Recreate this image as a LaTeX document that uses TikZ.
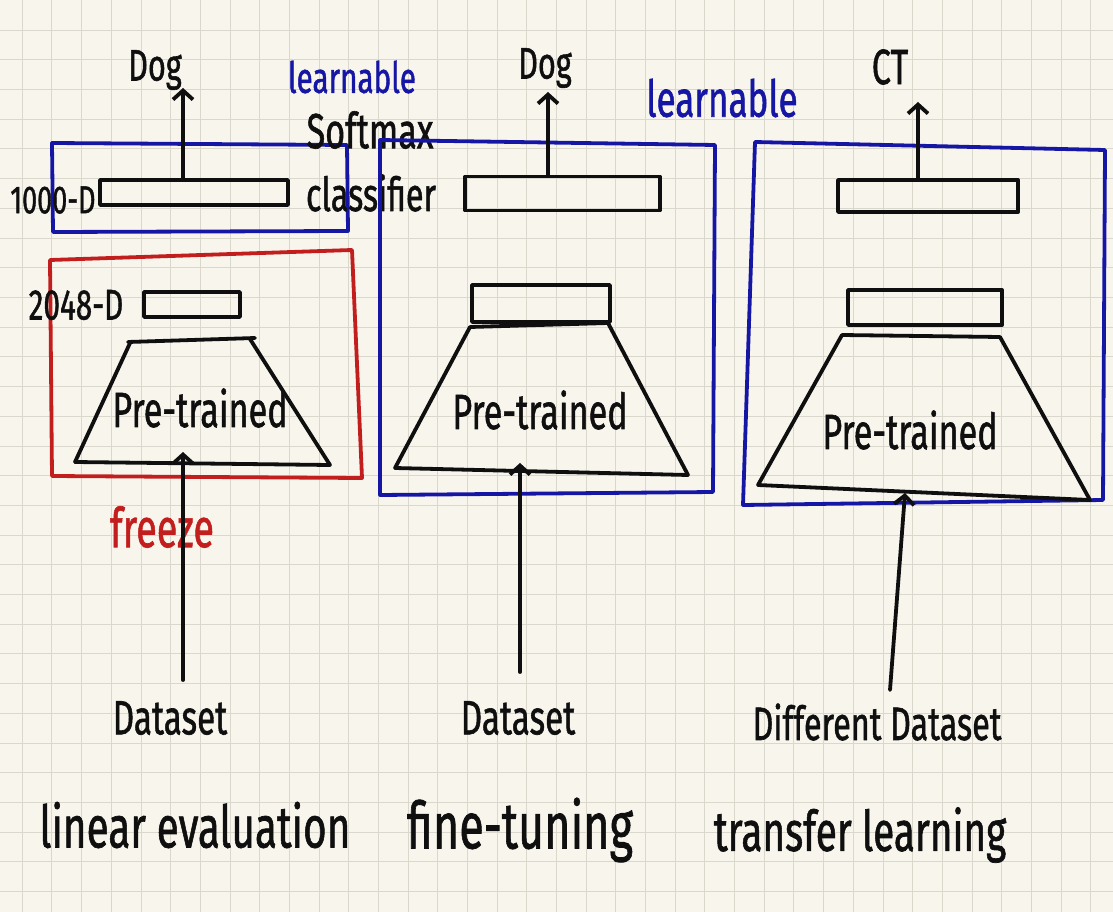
\documentclass[tikz,border=0pt]{standalone}
\usepackage{graphicx}
\usepackage{fontspec}
\setmainfont[FakeBold=1.3]{Fira Sans}
\usetikzlibrary{arrows.meta,calc}
\definecolor{paper}{RGB}{248,245,236}
\definecolor{gridc}{RGB}{218,215,204}
\definecolor{pen}{RGB}{15,15,15}
\definecolor{bluepen}{RGB}{22,22,165}
\definecolor{redpen}{RGB}{195,30,30}
\newcommand{\hwtext}[2]{\fontsize{#1}{#1}\selectfont\scalebox{0.9}[1.3]{#2}}
\tikzset{
  ink/.style={line width=3.8pt, line cap=round, line join=round, draw=pen},
  bluebox/.style={ink, draw=bluepen},
  redbox/.style={ink, draw=redpen},
  bar/.style={ink, rectangle, inner sep=0pt},
  arr/.style={ink, -{Straight Barb[length=9pt,width=20pt]}},
  hw/.style={inner sep=0pt, text=pen},
  gridline/.style={draw=gridc, line width=1pt},
}
\begin{document}
\begin{tikzpicture}[x=1pt,y=-1pt]
\fill[paper] (0,0) rectangle (1113,912);
\useasboundingbox (0,0) rectangle (1113,912);
\foreach \i in {0,...,37} \draw[gridline] ({22.3+29.68*\i},0) -- ++(0,912);
\foreach \j in {1,...,30} \draw[gridline] (0,{0.5+29.7*\j}) -- ++(1113,0);

% ---------- left panel: linear evaluation ----------
\draw[bluebox] (52,143) -- (347,145) -- (348,231) -- (53,232) -- cycle;
\draw[redbox] (50,260) -- (352,250) -- (362,478) -- (52,476) -- cycle;
\node[bar, minimum width=188pt, minimum height=25pt] (c1) at (194,192.5) {};
\node[bar, minimum width=96pt, minimum height=25pt] (b1) at (192,304.5) {};
\coordinate (t1a) at (128,342); \coordinate (t1b) at (255,338);
\coordinate (t1c) at (330,465); \coordinate (t1d) at (75,462);
\draw[ink] (t1a) -- (t1b);
\draw[ink] ($(t1a)!0.02!(t1b)$) -- (t1d);
\draw[ink] (250,339) -- (t1c);
\draw[ink] (t1d) -- (t1c);
\node[hw] (dog1) at (155,70) {\hwtext{34}{Dog}};
\coordinate (tip1) at (183,88);
\draw[arr] (c1.north -| tip1) -- (tip1);
\node[hw, text=bluepen] (learn1) at (352,77) {\hwtext{33}{learnable}};
\node[hw] (soft) at (370,130) {\hwtext{38}{Softmax}};
\node[hw] (clsf) at (371,193) {\hwtext{36}{classifier}};
\node[hw] (d1000) at (53,200) {\hwtext{30}{1000-D}};
\node[hw] (d2048) at (76,305) {\hwtext{33}{2048-D}};
\node[hw] (pt1) at (200,408) {\hwtext{38}{Pre-trained}};
\node[hw, text=redpen] (frz) at (162,527) {\hwtext{42}{freeze}};
\node[hw] (ds1) at (170,718) {\hwtext{37}{Dataset}};
\coordinate (s1) at (183,680); \coordinate (in1) at (183,452);
\draw[arr] (s1) -- (in1);
\node[hw] (lin) at (195,825) {\hwtext{45}{linear evaluation}};

% ---------- middle panel: fine-tuning ----------
\draw[bluebox] (380,140) -- (715,145) -- (713,492) -- (380,495) -- cycle;
\node[bar, minimum width=195pt, minimum height=34pt] (c2) at (562.5,193.5) {};
\node[bar, minimum width=138pt, minimum height=37pt] (b2) at (541,303.5) {};
\coordinate (t2a) at (470,327); \coordinate (t2b) at (608,323);
\coordinate (t2c) at (688,475); \coordinate (t2d) at (395,468);
\draw[ink] (t2a) -- (t2b);
\draw[ink] (t2a) -- (t2d);
\draw[ink] (t2b) -- (t2c);
\draw[ink] (t2d) -- (t2c);
\node[hw] (dog2) at (545,68) {\hwtext{34}{Dog}};
\coordinate (tip2) at (548,92);
\draw[arr] (c2.north -| tip2) -- (tip2);
\node[hw, text=bluepen] (learn2) at (722,98) {\hwtext{39}{learnable}};
\node[hw] (pt2) at (540,410) {\hwtext{38}{Pre-trained}};
\node[hw] (ds2) at (518,718) {\hwtext{37}{Dataset}};
\coordinate (s2) at (520,672); \coordinate (in2) at (520,463);
\draw[arr] (s2) -- (in2);
\node[hw] (ft) at (520,830) {\hwtext{50}{fine-tuning}};

% ---------- right panel: transfer learning ----------
\draw[bluebox] (755,142) -- (1105,150) -- (1103,500) -- (743,505) -- cycle;
\node[bar, minimum width=180pt, minimum height=32pt] (c3) at (928,196) {};
\node[bar, minimum width=154pt, minimum height=35pt] (b3) at (925,307.5) {};
\coordinate (t3a) at (842,335); \coordinate (t3b) at (1000,337);
\coordinate (t3c) at (1090,500); \coordinate (t3d) at (758,485);
\draw[ink] (t3a) -- (t3b);
\draw[ink] (t3a) -- (t3d);
\draw[ink] (t3b) -- (t3c);
\draw[ink] (t3d) -- (t3c);
\node[hw] (ct) at (890,67) {\hwtext{38}{CT}};
\coordinate (tip3) at (918,102);
\draw[arr] (c3.north -| tip3) -- (tip3);
\node[hw] (pt3) at (910,430) {\hwtext{38}{Pre-trained}};
\node[hw] (ds3) at (877,722) {\hwtext{36}{Different Dataset}};
\coordinate (s3) at (890,690); \coordinate (in3) at (905,493);
\draw[arr] (s3) -- (in3);
\node[hw] (tl) at (860,835) {\hwtext{43}{transfer learning}};
\end{tikzpicture}
\end{document}
